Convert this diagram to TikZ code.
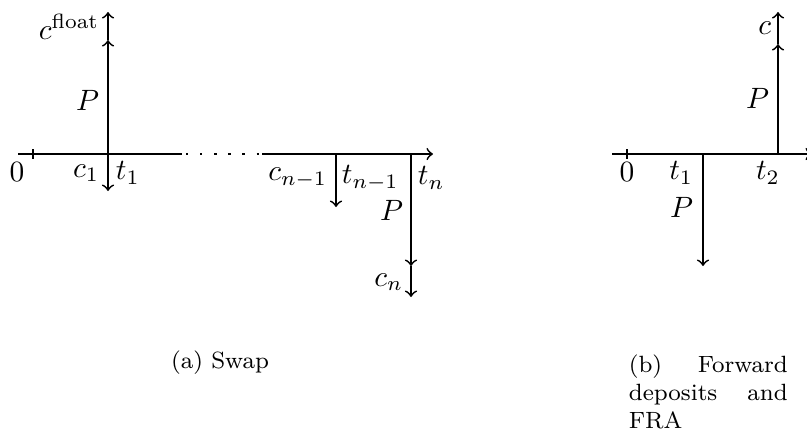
\documentclass[tikz,border=0pt]{standalone}
\usepackage{amsmath}
\usetikzlibrary{positioning}
\begin{document}
\begin{tikzpicture}[x=0.34pt,y=-0.34pt,semithick,>=to,
    lab/.style={inner sep=0pt},
    captext/.style={font=\fontsize{8pt}{9.5pt}\selectfont,inner sep=0pt}]
  \useasboundingbox (0,0) rectangle (807,435);

  % (a) Swap: time axis
  \coordinate (a start) at (18,154);
  \coordinate (a gap) at (182,154);
  \coordinate (a dots) at (186,154);
  \coordinate (a dotsend) at (259,154);
  \coordinate (a gapend) at (262,154);
  \coordinate (a end) at (433,154);
  \coordinate (a0) at (33,154);
  \coordinate (a1) at (108,154);
  \coordinate (an1) at (336,154);
  \coordinate (an) at (411,154);
  % flow ends
  \coordinate (a1P) at (108,40);
  \coordinate (a1c) at (108,12);
  \coordinate (a1d) at (108,191);
  \coordinate (an1d) at (336,207);
  \coordinate (anP) at (411,266);
  \coordinate (anc) at (411,297);

  \draw (a start) -- (a gap);
  \draw[line width=0.8pt,dash pattern=on 0.8pt off 4pt] (a dots) -- (a dotsend);
  \draw[->] (a gapend) -- (a end);
  \draw ([yshift=1.7pt]a0) -- ([yshift=-1.7pt]a0);

  \path[->]
  (a1) edge (a1P)
  (a1P) edge (a1c)
  (a1) edge (a1d)
  (an1) edge (an1d)
  (an) edge (anP)
  (anP) edge (anc);

  \node[lab] (a zero) at (17,172) {$0$};
  \node[lab,anchor=east] (a cfloat) at (100,27) {$c^{\text{float}}$};
  \node[lab,anchor=east] (a P1) at (100,100) {$P$};
  \node[lab,anchor=east] (a c1) at (100,173) {$c_1$};
  \node[lab,anchor=west] (a t1) at (115,173) {$t_1$};
  \node[lab,anchor=east] (a cn1) at (328,178) {$c_{n-1}$};
  \node[lab,anchor=west] (a tn1) at (341,178) {$t_{n-1}$};
  \node[lab,anchor=west] (a tn) at (417,178) {$t_n$};
  \node[lab,anchor=east] (a Pn) at (404,210) {$P$};
  \node[lab,anchor=east] (a cn) at (404,282) {$c_n$};

  % (b) Forward deposits and FRA
  \coordinate (b start) at (612,154);
  \coordinate (b end) at (812,154);
  \coordinate (b0) at (627,154);
  \coordinate (b1) at (703,154);
  \coordinate (b2) at (778,154);
  \coordinate (b1d) at (703,266);
  \coordinate (b2P) at (778,44);
  \coordinate (b2c) at (778,12);

  \draw[->] (b start) -- (b end);
  \draw ([yshift=1.7pt]b0) -- ([yshift=-1.7pt]b0);

  \path[->]
  (b1) edge (b1d)
  (b2) edge (b2P)
  (b2P) edge (b2c);

  \node[lab] (b zero) at (627,172) {$0$};
  \node[lab,anchor=east] (b t1) at (694,173) {$t_1$};
  \node[lab,anchor=east] (b P1) at (694,207) {$P$};
  \node[lab] (b t2) at (768,173) {$t_2$};
  \node[lab,anchor=east] (b P2) at (770,98) {$P$};
  \node[lab,anchor=east] (b c) at (772,28) {$c$};

  % captions
  \node[captext,anchor=base] (a caption) at (220,368) {(a) Swap};
  \node[captext,anchor=north west,text width=54pt,align=justify] (b caption) at (628,354)
    {(b) Forward deposits and FRA};
\end{tikzpicture}
\end{document}
